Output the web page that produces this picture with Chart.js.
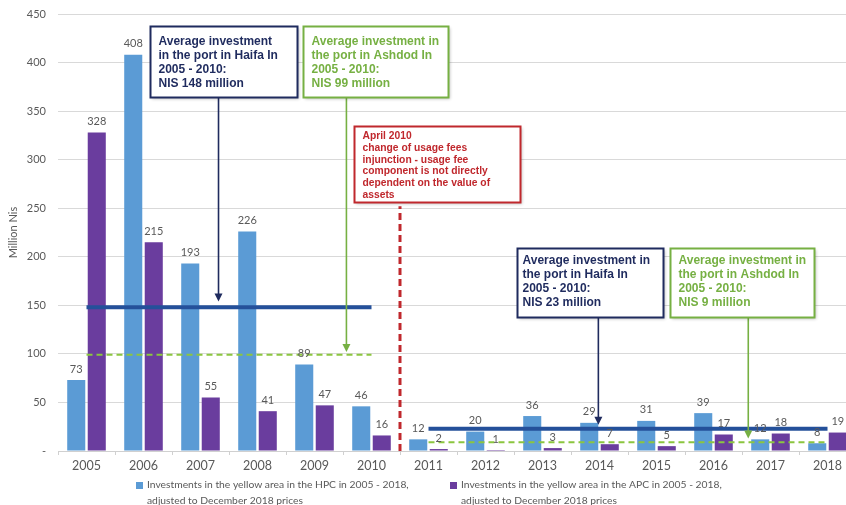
<!DOCTYPE html>
<html><head><meta charset="utf-8">
<script src="https://cdn.jsdelivr.net/npm/chart.js@4/dist/chart.umd.min.js"></script>
<style>
html,body{margin:0;padding:0;background:#fff;overflow:hidden;width:846px;height:505px}
#wrap{position:relative;width:860px;height:505px}
</style>
</head><body><div id="wrap"><canvas id="c" width="860" height="505"></canvas></div>
<script>
const years = ['2005','2006','2007','2008','2009','2010','2011','2012','2013','2014','2015','2016','2017','2018'];
const hpcValues = [73,408,193,226,89,46,12,20,36,29,31,39,12,8];
const apcValues = [328,215,55,41,47,16,2,1,3,7,5,17,18,19];
const haifaAvgEarly  = [148,148,148,148,148,148,null,null,null,null,null,null,null,null];
const ashdodAvgEarly = [99,99,99,99,99,99,null,null,null,null,null,null,null,null];
const haifaAvgLate   = [null,null,null,null,null,null,23,23,23,23,23,23,23,23];
const ashdodAvgLate  = [null,null,null,null,null,null,9,9,9,9,9,9,9,9];
const yTickValues = [0,50,100,150,200,250,300,350,400,450];
const hpcLegend = ['Investments in the yellow area in the HPC in 2005 - 2018,','adjusted to December 2018 prices'];
const apcLegend = ['Investments in the yellow area in the APC in 2005 - 2018,','adjusted to December 2018 prices'];
const yTitle = 'Million Nis';

const NAVY = '#1f2b5e', GREEN = '#76b043', RED = '#c0282d';
const BLUE_BAR = '#5b9bd5', PURPLE_BAR = '#6a3d9e', AVG_BLUE = '#24509a', DASH_GREEN = '#8cc63f';
const LABEL_FONT = 'Lato, "Open Sans", "Liberation Sans", sans-serif';

// annotation definitions (positions in data units: x = category index, y = value)
const notes = [
  {x0:1.12,x1:3.70,yTop:437.6,yBot:364.5,color:NAVY,font:'bold 12px "Liberation Sans", Arial, sans-serif',padX:8,first:15,lh:14,
   lines:['Average investment','in the port in Haifa In','2005 - 2010:','NIS 148 million'],arrow:{x:2.316,to:154}},
  {x0:3.79,x1:6.35,yTop:437.6,yBot:364.5,color:GREEN,font:'bold 12px "Liberation Sans", Arial, sans-serif',padX:8,first:15,lh:14,
   lines:['Average investment in','the port in Ashdod In','2005 - 2010:','NIS 99 million'],arrow:{x:4.56,to:102}},
  {x0:4.70,x1:7.60,yTop:334.7,yBot:256.4,color:RED,font:'bold 10.3px "Liberation Sans", Arial, sans-serif',padX:8,first:10,lh:11.7,
   lines:['April 2010','change of usage fees','injunction - usage fee','component is not directly','dependent on the value of','assets']},
  {x0:7.56,x1:10.11,yTop:209,yBot:138,color:NAVY,font:'bold 12px "Liberation Sans", Arial, sans-serif',padX:5,first:12,lh:14,
   lines:['Average investment in','the port in Haifa In','2005 - 2010:','NIS 23 million'],arrow:{x:8.98,to:27}},
  {x0:10.23,x1:12.77,yTop:209,yBot:138,color:GREEN,font:'bold 12px "Liberation Sans", Arial, sans-serif',padX:8,first:12,lh:14,
   lines:['Average investment in','the port in Ashdod In','2005 - 2010:','NIS 9 million'],arrow:{x:11.61,to:13}}
];
const redLine = {x:5.5, from:0, to:252};

function arrowDown(ctx, x, y0, y1, color){
  ctx.save();
  ctx.strokeStyle = color; ctx.fillStyle = color; ctx.lineWidth = 1.6;
  ctx.beginPath(); ctx.moveTo(x, y0); ctx.lineTo(x, y1-7); ctx.stroke();
  ctx.beginPath(); ctx.moveTo(x-4, y1-8); ctx.lineTo(x+4, y1-8); ctx.lineTo(x, y1); ctx.closePath(); ctx.fill();
  ctx.restore();
}

const annotationPlugin = {
  id:'annots',
  afterDatasetsDraw(chart){
    const ctx = chart.ctx, xs = chart.scales.x, ys = chart.scales.y;
    ctx.save();
    ctx.strokeStyle = RED; ctx.lineWidth = 3; ctx.setLineDash([7,4]);
    const rx = xs.getPixelForValue(redLine.x);
    ctx.beginPath(); ctx.moveTo(rx, ys.getPixelForValue(redLine.from)); ctx.lineTo(rx, ys.getPixelForValue(redLine.to)); ctx.stroke();
    ctx.restore();
    ctx.save();
    ctx.font = '11px ' + LABEL_FONT;
    ctx.fillStyle = '#595959'; ctx.textAlign = 'center'; ctx.textBaseline = 'middle';
    chart.data.datasets.forEach((ds, di) => {
      if (ds.type !== 'bar') return;
      const meta = chart.getDatasetMeta(di);
      meta.data.forEach((bar, i) => { ctx.fillText(String(ds.data[i]), bar.x, bar.y - 11); });
    });
    ctx.restore();
    notes.forEach(n => {
      const l = Math.round(xs.getPixelForValue(n.x0))+0.5, r = Math.round(xs.getPixelForValue(n.x1))+0.5;
      const t = Math.round(ys.getPixelForValue(n.yTop))+0.5, b = Math.round(ys.getPixelForValue(n.yBot))+0.5;
      if (n.arrow){
        arrowDown(ctx, xs.getPixelForValue(n.arrow.x), b, ys.getPixelForValue(n.arrow.to), n.color);
      }
      ctx.save();
      ctx.shadowColor = 'rgba(0,0,0,0.25)'; ctx.shadowBlur = 3; ctx.shadowOffsetX = 1.5; ctx.shadowOffsetY = 1.5;
      ctx.fillStyle = '#fff'; ctx.fillRect(l, t, r-l, b-t);
      ctx.restore();
      ctx.save();
      ctx.strokeStyle = n.color; ctx.lineWidth = 2; ctx.strokeRect(l, t, r-l, b-t);
      ctx.fillStyle = n.color; ctx.font = n.font; ctx.textAlign = 'left'; ctx.textBaseline = 'middle';
      n.lines.forEach((s, k) => ctx.fillText(s, l + n.padX, t + n.first + k*n.lh));
      ctx.restore();
    });
  },
  afterDraw(chart){
    const ctx = chart.ctx;
    const items = [{c:BLUE_BAR, lines:hpcLegend, x:136},{c:PURPLE_BAR, lines:apcLegend, x:450}];
    ctx.save();
    ctx.font = '10.3px ' + LABEL_FONT;
    ctx.textBaseline = 'middle'; ctx.textAlign = 'left';
    items.forEach(it => {
      ctx.fillStyle = it.c; ctx.fillRect(it.x, 482, 7, 7);
      ctx.fillStyle = '#595959';
      it.lines.forEach((s, k) => ctx.fillText(s, it.x + 11, 485 + k*15.5));
    });
    ctx.restore();
  }
};

new Chart(document.getElementById('c'), {
  data: {
    labels: years,
    datasets: [
      {type:'line', label:'Haifa avg 2005-2010', data:haifaAvgEarly, borderColor:AVG_BLUE, borderWidth:4, pointRadius:0, order:0},
      {type:'line', label:'Ashdod avg 2005-2010', data:ashdodAvgEarly, borderColor:DASH_GREEN, borderWidth:2, borderDash:[6,4], pointRadius:0, order:0},
      {type:'line', label:'Haifa avg 2011-2018', data:haifaAvgLate, borderColor:AVG_BLUE, borderWidth:4, pointRadius:0, order:0},
      {type:'line', label:'Ashdod avg 2011-2018', data:ashdodAvgLate, borderColor:DASH_GREEN, borderWidth:2, borderDash:[6,4], pointRadius:0, order:0},
      {type:'bar', label:hpcLegend.join(' '), data:hpcValues, backgroundColor:BLUE_BAR, categoryPercentage:0.72, barPercentage:0.88, order:1},
      {type:'bar', label:apcLegend.join(' '), data:apcValues, backgroundColor:PURPLE_BAR, categoryPercentage:0.72, barPercentage:0.88, order:1}
    ]
  },
  options: {
    responsive:false, animation:false, devicePixelRatio:1,
    layout:{padding:{top:14,right:4,bottom:0,left:0}},
    plugins:{legend:{display:false}, tooltip:{enabled:false}},
    scales:{
      x:{
        grid:{display:true, drawOnChartArea:false, drawTicks:true, tickLength:4, color:'#d0d0d0', offset:true},
        border:{display:true, color:'#d0d0d0'},
        ticks:{color:'#595959', font:{size:12.5, family:LABEL_FONT}, padding:3, maxRotation:0, autoSkip:false},
        afterFit(s){ s.height = 54; }
      },
      y:{
        min:0, max:450,
        afterBuildTicks(s){ s.ticks = yTickValues.map(v => ({value:v})); },
        ticks:{color:'#595959', font:{size:11, family:LABEL_FONT}, padding:12,
               callback:v => v === 0 ? '-' : String(v)},
        grid:{color:'#d9d9d9', drawTicks:false},
        border:{display:false},
        title:{display:true, text:yTitle, color:'#595959', font:{size:11, family:LABEL_FONT}, padding:{top:7,bottom:0}},
        afterFit(s){ s.width = 58; s.paddingTop = 0; s.paddingBottom = 0; }
      }
    }
  },
  plugins:[annotationPlugin]
});
</script>
</body></html>
